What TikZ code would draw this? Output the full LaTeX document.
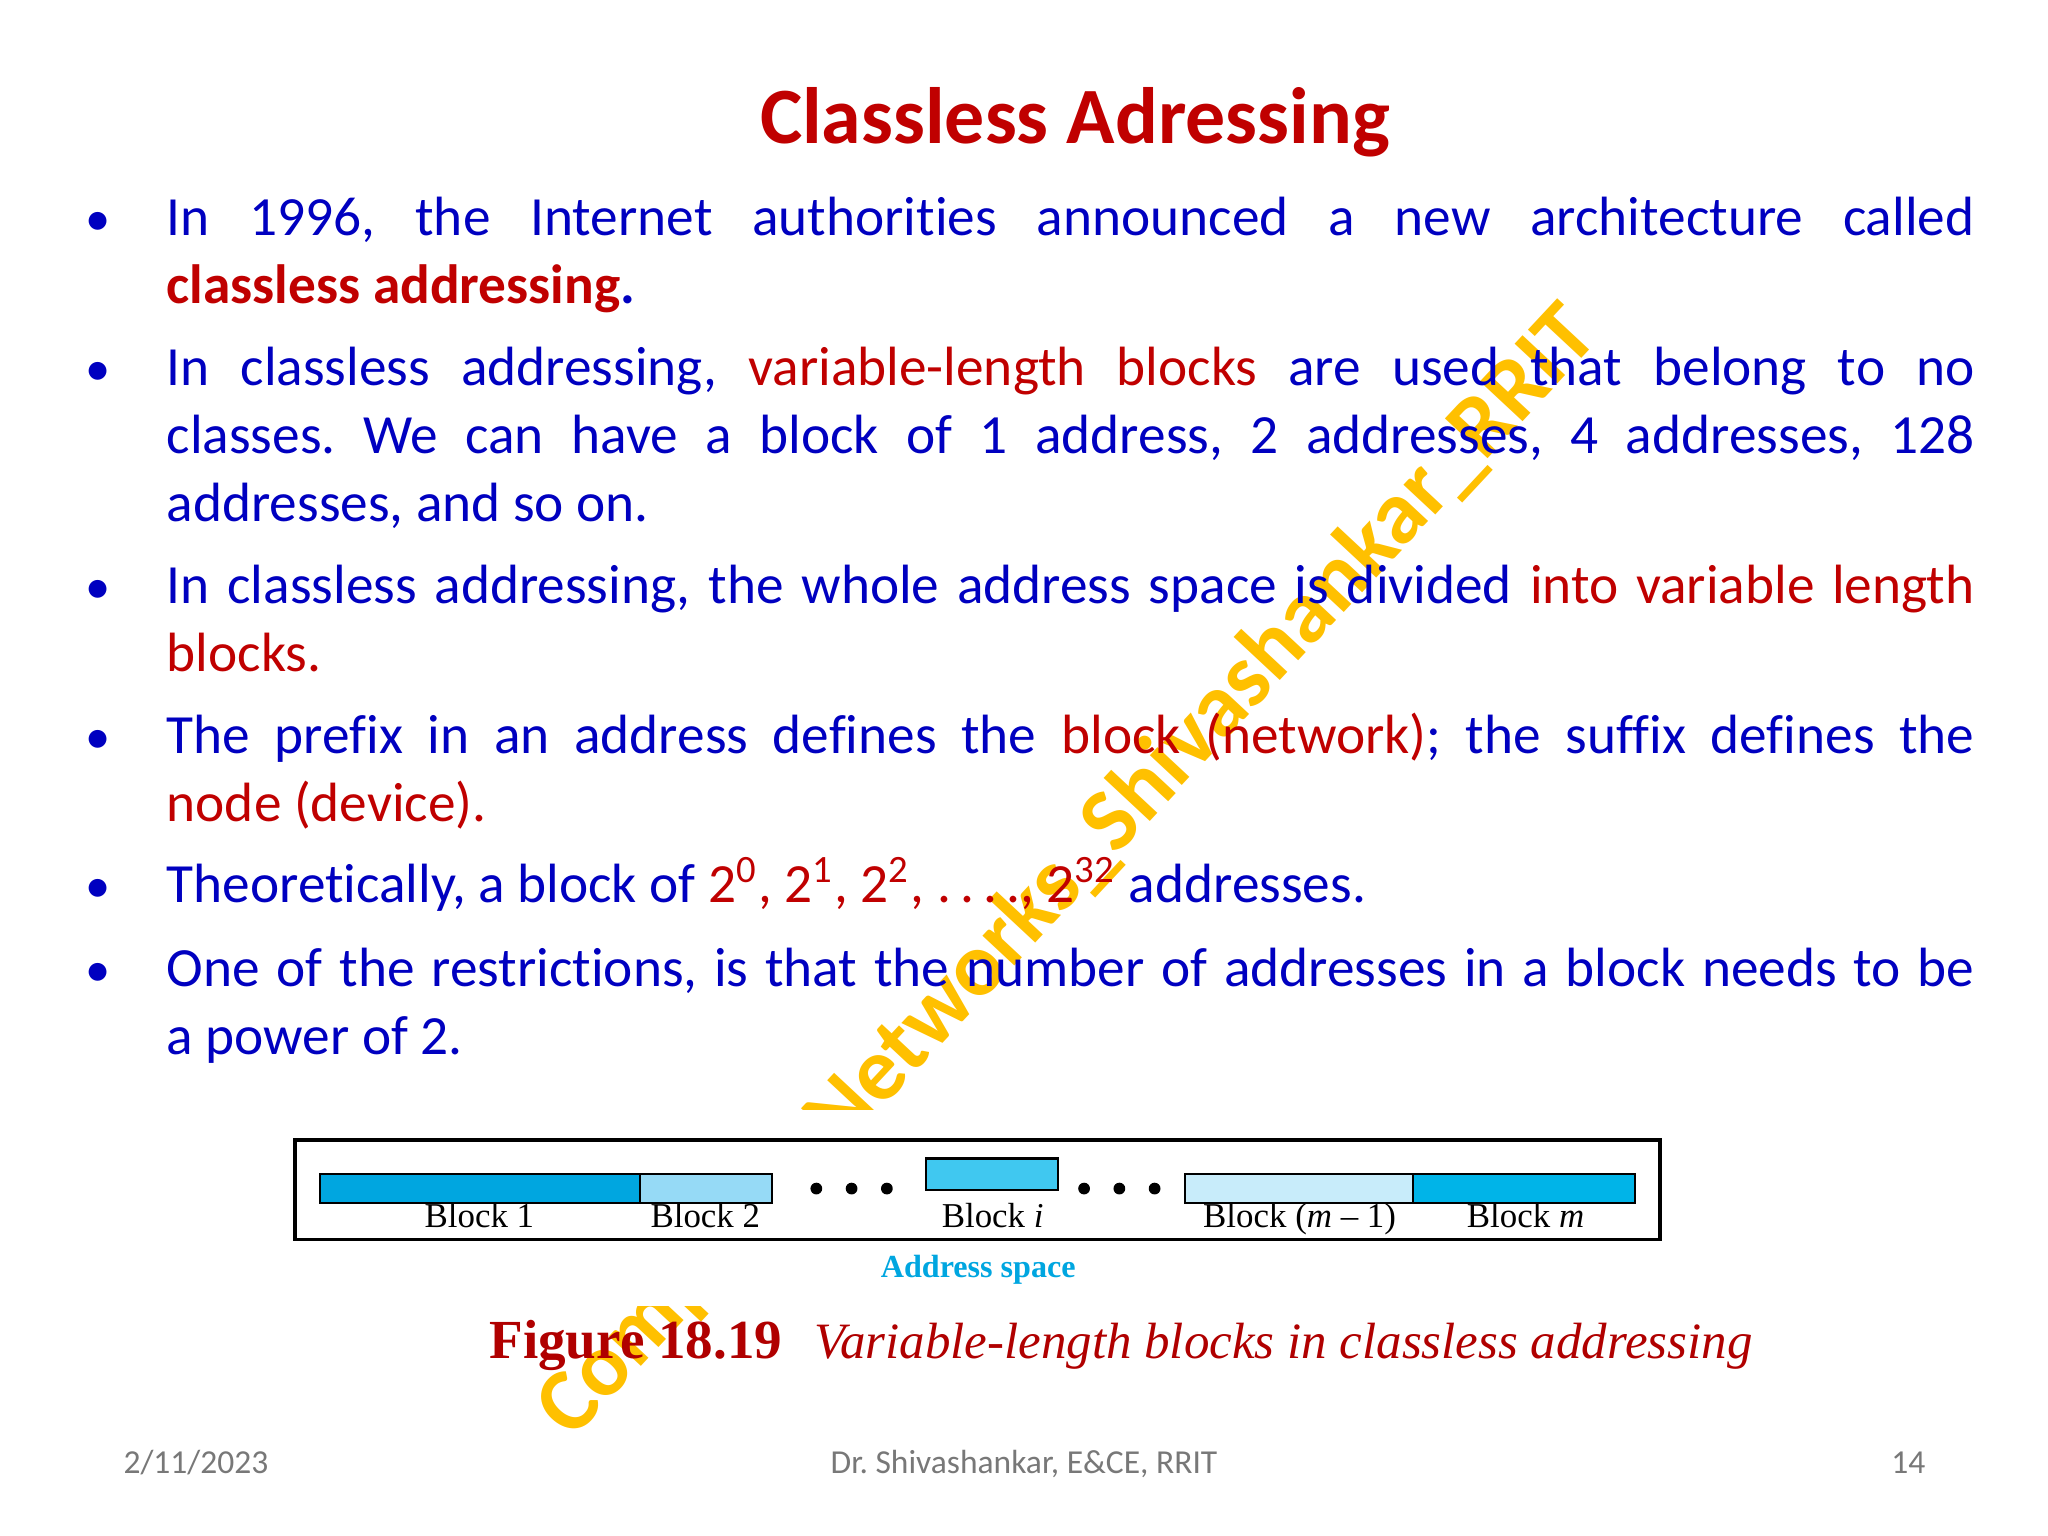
\documentclass[tikz,border=0pt]{standalone}
\usepackage{fontspec}
\setmainfont[Ligatures=NoCommon]{Carlito}
\newfontfamily\tnr{Liberation Serif}
\frenchspacing
\definecolor{tblue}{RGB}{0,0,192}
\definecolor{tred}{RGB}{192,0,0}
\definecolor{wmk}{RGB}{255,192,0}
\definecolor{cdark}{RGB}{0,166,224}
\definecolor{clight}{RGB}{150,218,246}
\definecolor{cmid}{RGB}{64,200,240}
\definecolor{cpale}{RGB}{200,236,250}
\definecolor{cm}{RGB}{0,180,232}
\definecolor{figred}{RGB}{176,0,0}
\definecolor{foot}{RGB}{120,120,120}
\tikzset{
  body/.style={anchor=base west,inner sep=0,text width=13.84cm,align=justify,text=tblue,font=\fontsize{12.05}{14.8}\selectfont},
  bul/.style={anchor=base,inner sep=0,text=tblue,font=\fontsize{11}{14.8}\selectfont},
  blk/.style={draw=black,line width=0.5pt},
  blabel/.style={anchor=base,inner sep=0,font=\tnr\fontsize{7.6}{8}\selectfont},
  dot/.style={circle,fill=black,inner sep=0,minimum size=0.09cm},
  footer/.style={anchor=base,inner sep=0,text=foot,font=\fontsize{7.3}{8}\selectfont}
}
\begin{document}
\begin{tikzpicture}
\useasboundingbox[fill=white] (0,0) rectangle (15.68,-11.76);
% watermark
\node[rotate=47,text=wmk,font=\bfseries\fontsize{19.6}{20}\selectfont,inner sep=0] (wm) at (8.18,-6.68) {Computer Networks\_Shivashankar\_RRIT};
\fill[white] (2.0,-8.5) rectangle (13.2,-10.0);
% title
\node[anchor=base,inner sep=0,text=tred,font=\bfseries\fontsize{17.4}{20}\selectfont] (title) at (8.23,-1.10) {Classless Adressing};
% bullets
\node[bul] (b1) at (0.75,-1.80) {•};
\node[body] (t1) at (1.27,-1.80) {In 1996, the Internet authorities announced a new architecture called\linebreak \textcolor{tred}{\bfseries classless addressing}\textbf{.}};
\node[bul] (b2) at (0.75,-2.95) {•};
\node[body] (t2) at (1.27,-2.95) {In classless addressing, \textcolor{tred}{variable-length blocks} are used that belong to no\linebreak classes. We can have a block of 1 address, 2 addresses, 4 addresses, 128\linebreak addresses, and so on.};
\node[bul] (b3) at (0.75,-4.62) {•};
\node[body] (t3) at (1.27,-4.62) {In classless addressing, the whole address space is divided \textcolor{tred}{into variable length\linebreak blocks.}};
\node[bul] (b4) at (0.75,-5.77) {•};
\node[body] (t4) at (1.27,-5.77) {The prefix in an address defines the \textcolor{tred}{block (network)}; the suffix defines the\linebreak \textcolor{tred}{node (device).}};
\node[bul] (b5) at (0.75,-6.91) {•};
\node[body] (t5) at (1.27,-6.91) {Theoretically, a block of \textcolor{tred}{2\textsuperscript{0}, 2\textsuperscript{1}, 2\textsuperscript{2}, .\,.\,.\,., 2\textsuperscript{32}} addresses.};
\node[bul] (b6) at (0.75,-7.55) {•};
\node[body] (t6) at (1.27,-7.55) {One of the restrictions, is that the number of addresses in a block needs to be\linebreak a power of 2.};
% figure
\draw[line width=0.8pt] (2.26,-8.73) rectangle (12.71,-9.49);
\draw[blk,fill=cdark] (2.45,-8.99) rectangle (4.90,-9.21);
\draw[blk,fill=clight] (4.90,-8.99) rectangle (5.91,-9.21);
\node[dot] (d1) at (6.25,-9.10) {};
\node[dot] (d2) at (6.52,-9.10) {};
\node[dot] (d3) at (6.79,-9.10) {};
\draw[blk,fill=cmid] (7.09,-8.87) rectangle (8.10,-9.11);
\node[dot] (d4) at (8.30,-9.10) {};
\node[dot] (d5) at (8.57,-9.10) {};
\node[dot] (d6) at (8.84,-9.10) {};
\draw[blk,fill=cpale] (9.07,-8.99) rectangle (10.82,-9.21);
\draw[blk,fill=cm] (10.82,-8.99) rectangle (12.52,-9.21);
\node[blabel] (l1) at (3.67,-9.40) {Block 1};
\node[blabel] (l2) at (5.40,-9.40) {Block 2};
\node[blabel] (l3) at (7.60,-9.40) {Block \textit{i}};
\node[blabel] (l4) at (9.95,-9.40) {Block (\textit{m} – 1)};
\node[blabel] (l5) at (11.68,-9.40) {Block \textit{m}};
\node[anchor=base,inner sep=0,text=cdark,font=\tnr\bfseries\fontsize{7}{8}\selectfont] (as) at (7.49,-9.78) {Address space};
\node[anchor=base west,inner sep=0,text=figred,font=\tnr\bfseries\fontsize{12}{14}\selectfont] (fig) at (3.74,-10.40) {Figure 18.19};
\node[anchor=base west,inner sep=0,text=figred,font=\tnr\itshape\fontsize{11.1}{14}\selectfont] (cap) at (6.23,-10.40) {Variable-length blocks in classless addressing};
% footer
\node[footer] (f1) at (1.50,-11.28) {2/11/2023};
\node[footer] (f2) at (7.84,-11.28) {Dr. Shivashankar, E\&CE, RRIT};
\node[footer] (f3) at (14.61,-11.28) {14};
\end{tikzpicture}
\end{document}
